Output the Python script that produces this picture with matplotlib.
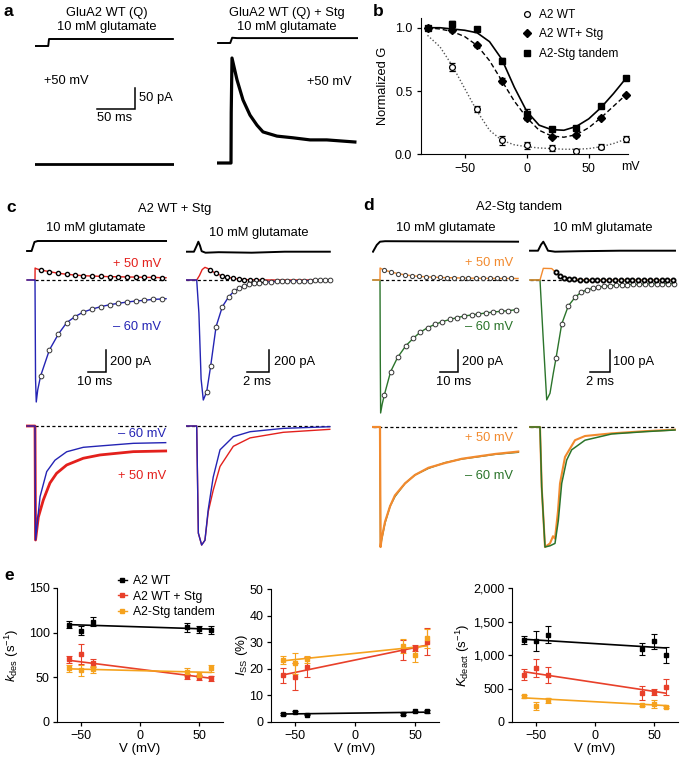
import matplotlib
matplotlib.use("Agg")
import matplotlib.pyplot as plt
from matplotlib.lines import Line2D
from matplotlib.ticker import FuncFormatter
import numpy as np

plt.rcParams["font.family"] = ["Liberation Sans", "DejaVu Sans"]
plt.rcParams["mathtext.fontset"] = "custom"
plt.rcParams["mathtext.rm"] = "Liberation Sans"
plt.rcParams["mathtext.it"] = "Liberation Sans:italic"

W, H = 685, 759
RED = "#e3201c"
BLUE = "#2424b4"
ORANGE = "#f28a2e"
GREEN = "#2b742b"
E_RED = "#e8402a"
E_ORANGE = "#f5a21e"

# ---- panel a: +50 mV responses (ms, pA) ----
A_WT_T = [-18, 163]
A_WT_I = [0, 0]
A_STG_T = [-18, 0, 0.3, 1.3, 7.9, 15.8, 25, 34.2, 42.1, 60.5, 81.6, 104, 126, 163]
A_STG_I = [0, 0, 120, 250, 198, 150, 114, 90, 74, 64, 60, 55, 55, 50]
A_GLU_WT_T = [-18, -1, 0, 163]
A_GLU_WT = [0, 0, 1, 1]
A_GLU_STG_T = [-17, -1, 1.5, 8, 20, 166]
A_GLU_STG = [0, 0, 0.75, 0.7, 0.7, 0.7]

# ---- panel b: G-V ----
B_V = [-80, -60, -40, -20, 0, 20, 40, 60, 80]
B_WT = [1.0, 0.69, 0.36, 0.11, 0.07, 0.05, 0.03, 0.06, 0.12]
B_WT_ERR = [0.01, 0.03, 0.025, 0.035, 0.03, 0.02, 0.01, 0.02, 0.025]
B_STG = [1.0, 0.98, 0.86, 0.58, 0.29, 0.14, 0.15, 0.29, 0.47]
B_STG_ERR = [0.01, 0.01, 0.015, 0.02, 0.02, 0.01, 0.01, 0.01, 0.01]
B_TAN = [1.0, 1.03, 0.99, 0.74, 0.32, 0.2, 0.21, 0.38, 0.6]
B_TAN_ERR = [0.01, 0.02, 0.01, 0.02, 0.04, 0.01, 0.01, 0.01, 0.01]
B_FIT_V = [-80, -70, -60, -50, -40, -30, -20, -10, 0, 10, 20, 30, 40, 50, 60, 70, 80]
B_FIT_WT = [0.94, 0.85, 0.70, 0.52, 0.34, 0.19, 0.11, 0.075, 0.06, 0.05, 0.045, 0.04, 0.04, 0.045, 0.06, 0.085, 0.12]
B_FIT_STG = [1.0, 0.99, 0.97, 0.93, 0.86, 0.74, 0.58, 0.42, 0.29, 0.19, 0.145, 0.135, 0.155, 0.21, 0.29, 0.38, 0.47]
B_FIT_TAN = [1.0, 1.0, 0.99, 0.98, 0.96, 0.89, 0.75, 0.53, 0.34, 0.23, 0.195, 0.19, 0.22, 0.28, 0.37, 0.48, 0.6]

# ---- panel c: A2 WT + Stg (ms, pA) ----
C_L_MARK_T = [3.1, 8.0, 13.0, 17.6, 22.2, 26.9, 31.8, 36.7, 41.7, 46.3, 51.3, 56.1, 60.7, 65.4, 70.4]
C_L_NEG_MARK = [-873, -636, -491, -388, -333, -291, -264, -242, -224, -212, -200, -191, -185, -176, -173]
C_L_POS_MARK = [91, 76, 61, 52, 45, 39, 36, 33, 30, 30, 27, 27, 24, 24, 21]
C_L_NEG_PRE_T = [-4.4, 0, 0.3, 0.7, 1.5]
C_L_NEG_PRE = [0, 0, -900, -1109, -1000]
C_L_POS_PRE_T = [-4.4, 0, 0.05, 0.8]
C_L_POS_PRE = [0, 0, 109, 102]
C_L_END_T = [72.8]
C_L_NEG_END = [-170]
C_L_POS_END = [21]
C_L_GLU_T = [-4.4, -1.9, -0.3, 1.5, 72.8]
C_L_GLU = [0, 0, 0.9, 1.0, 1.0]

C_R_NEG_MARK_T = [0.91, 1.27, 1.76, 2.33, 2.91, 3.42, 3.88, 4.33, 4.79, 5.21, 5.70, 6.21,
                  6.72, 7.27, 7.72, 8.24, 8.79, 9.30, 9.75, 10.30, 10.75, 11.21, 11.66, 12.12]
C_R_NEG_MARK = [-1015, -782, -424, -243, -152, -100, -75, -55, -39, -30, -24, -20,
                -16, -13, -11, -9, -8, -7, -6, -5, -4, -3, -3, -2]
C_R_POS_MARK_T = [1.21, 1.73, 2.27, 2.79, 3.33, 3.85, 4.33, 4.85, 5.4, 5.9]
C_R_POS_MARK = [91, 61, 39, 25, 15, 8, 4, 2, 1, 0]
C_R_NEG_PRE_T = [-0.95, 0, 0.2, 0.4, 0.6]
C_R_NEG_PRE = [0, 0, -300, -900, -1091]
C_R_POS_PRE_T = [-0.95, 0, 0.25, 0.5, 0.75, 1.0]
C_R_POS_PRE = [0, 0, 40, 95, 115, 105]
C_R_GLU_T = [-0.95, -0.25, 0, 0.15, 0.3, 0.45, 0.8, 2, 5, 8, 12.1]
C_R_GLU = [0, 0, 0.6, 1.0, 0.6, 0.05, -0.1, -0.05, -0.1, 0, 0]

# normalized overlays
C_LL_NEG_T = [-4.4, 0, 0.3, 2.8, 6.5, 11.1, 17.6, 26.8, 36.1, 54.6, 72.6]
C_LL_NEG = [0, 0, -1, -0.62, -0.40, -0.30, -0.226, -0.187, -0.175, -0.152, -0.146]
C_LL_POS_T = [-4.4, 0, 0.3, 1.85, 4.6, 8.3, 12.0, 17.6, 26.8, 36.1, 54.6, 72.6]
C_LL_POS = [0, 0, -1, -0.80, -0.65, -0.50, -0.415, -0.342, -0.283, -0.254, -0.225, -0.219]
C_LR_T = [-0.95, 0, 0.15, 0.45, 0.75, 1.05, 1.5, 2.12, 3.33, 4.85, 7.87, 12.1]
C_LR_NEG = [0, 0, -0.9, -1.0, -0.96, -0.7, -0.43, -0.2, -0.09, -0.048, -0.02, -0.006]
C_LR_POS = [0, 0, -0.9, -1.0, -0.96, -0.72, -0.54, -0.34, -0.17, -0.10, -0.053, -0.028]

# ---- panel d: A2-Stg tandem (ms, pA) ----
D_L_POS_MARK_T = [2.2, 6.1, 9.8, 13.9, 17.6, 21.7, 25.6, 29.6, 33.3, 37.4, 41.3, 45.4, 49.1,
                  53.2, 57.1, 61.1, 64.8, 68.9, 72.6]
D_L_POS_MARK = [91, 73, 58, 47, 39, 33, 29, 26, 23, 21, 20, 18, 17, 16, 15, 15, 14, 14, 14]
D_L_NEG_MARK_T = [2.4, 5.9, 9.8, 14.4, 18.5, 22.2, 26.5, 30.6, 34.6, 38.9, 42.9, 46.9, 50.9,
                  54.6, 58.9, 62.9, 67.0, 71.3, 75.4]
D_L_NEG_MARK = [-1045, -833, -703, -597, -530, -476, -433, -403, -379, -358, -342, -327, -318,
                -309, -300, -291, -285, -279, -270]
D_L_POS_PRE_T = [-3.9, 0, 0.05, 1.0]
D_L_POS_PRE = [0, 0, 109, 100]
D_L_NEG_PRE_T = [-3.9, 0, 0.15, 0.35, 1.2]
D_L_NEG_PRE = [0, 0, -700, -1209, -1130]
D_L_END_T = [76.7]
D_L_POS_END = [14]
D_L_NEG_END = [-268]
D_L_GLU_T = [-3.9, -1.8, 0, 2.8, 76.7]
D_L_GLU = [0, 0.67, 1.0, 1.05, 1.0]

D_R_NEG_MARK_T = [1.6, 2.17, 2.83, 3.5, 4.1, 4.67, 5.27, 5.83, 6.4, 7.0, 7.57, 8.17, 8.73,
                  9.33, 9.9, 10.5, 11.07, 11.67, 12.23, 12.83, 13.4]
D_R_NEG_MARK = [-356, -200, -118, -79, -56, -45, -38, -32, -29, -26, -24, -23, -21,
                -20, -20, -18, -18, -18, -17, -17, -17]
D_R_POS_MARK_T = [1.57, 2.0, 2.43, 2.93, 3.43, 4.0, 4.57, 5.17, 5.73, 6.33, 6.9, 7.5, 8.07,
                  8.67, 9.23, 9.83, 10.4, 11.0, 11.57, 12.17, 12.73, 13.33]
D_R_POS_MARK = [35, 20, 11, 6, 3, 2, 1, 1, 0, 0, 0, 0, 0, 0, 0, 0, 0, 0, 0, 0, 0, 0]
D_R_NEG_PRE_T = [-1.0, 0, 0.3, 0.67, 1.0, 1.33]
D_R_NEG_PRE = [0, 0, -250, -545, -515, -424]
D_R_POS_PRE_T = [-1.0, 0, 0.33, 1.17]
D_R_POS_PRE = [0, 0, 53, 52]
D_R_GLU_T = [-1.0, -0.2, 0.1, 0.33, 0.55, 0.8, 1.5, 4, 8, 13.5]
D_R_GLU = [0, 0, 0.6, 0.9, 0.5, 0.0, -0.1, -0.05, 0, 0]

D_LL_T = [-3.9, 0, 0.3, 0.9, 2.8, 5.6, 8.3, 13.9, 19.4, 26.9, 36.1, 45.4, 54.6, 63.9, 76.8]
D_LL_NEG = [0, 0, -1.0, -0.94, -0.80, -0.66, -0.58, -0.47, -0.40, -0.345, -0.297, -0.267, -0.248, -0.228, -0.211]
D_LL_POS = [0, 0, -1.0, -0.93, -0.79, -0.66, -0.57, -0.47, -0.40, -0.34, -0.30, -0.265, -0.245, -0.225, -0.205]
D_LR_NEG_T = [-1.0, 0, 0.17, 0.5, 1.0, 1.5, 1.83, 2.17, 2.67, 3.17, 4.5, 7.17, 10.5, 13.5]
D_LR_NEG = [0, 0, -0.5, -1.0, -0.99, -0.97, -0.78, -0.47, -0.275, -0.19, -0.11, -0.058, -0.039, -0.025]
D_LR_POS_T = [-1.0, 0, 0.17, 0.5, 1.0, 1.3, 1.5, 1.8, 2.0, 2.5, 3.5, 4.5, 7.17, 10.5, 13.5]
D_LR_POS = [0, 0, -0.5, -1.0, -0.97, -0.91, -0.93, -0.7, -0.47, -0.25, -0.11, -0.075, -0.053, -0.035, -0.022]

# ---- panel e ----
E_V = [-60, -50, -40, 40, 50, 60]
FIT_V = [-60, 60]
KDES_WT = [109, 102, 112, 106, 104, 103]
KDES_WT_ERR = [4, 5, 5, 5, 4, 5]
KDES_STG = [70, 76, 66, 51, 50, 49]
KDES_STG_ERR = [4, 11, 4, 3, 3, 3]
KDES_TAN = [60, 58, 59, 56, 53, 60]
KDES_TAN_ERR = [4, 6, 4, 5, 3, 4]
KDES_FIT = {"wt": [109, 104], "stg": [69, 49], "tan": [59.5, 55.5]}
ISS_WT = [3.1, 3.8, 2.8, 3.1, 4.0, 4.0]
ISS_WT_ERR = [0.3, 0.5, 0.3, 0.3, 0.3, 0.6]
ISS_STG = [17.6, 17.0, 20.8, 27.0, 27.8, 30.2]
ISS_STG_ERR = [2.8, 5.0, 3.8, 3.8, 1.2, 5.0]
ISS_TAN = [23.3, 22.0, 23.5, 28.6, 25.2, 31.5]
ISS_TAN_ERR = [1.5, 3.8, 1.3, 2.5, 2.5, 3.5]
ISS_FIT = {"wt": [3.0, 3.7], "stg": [17.7, 28.9], "tan": [23.0, 28.6]}
KDEACT_WT = [1219, 1214, 1303, 1090, 1204, 1005]
KDEACT_WT_ERR = [60, 150, 130, 90, 110, 120]
KDEACT_STG = [706, 806, 706, 433, 448, 517]
KDEACT_STG_ERR = [80, 140, 120, 100, 40, 120]
KDEACT_TAN = [383, 234, 323, 249, 274, 219]
KDEACT_TAN_ERR = [25, 60, 40, 15, 60, 15]
KDEACT_FIT = {"wt": [1235, 1105], "stg": [750, 430], "tan": [360, 245]}

fig = plt.figure(figsize=(W / 100, H / 100), dpi=100)


def ftext(x, y, s, **kw):
    kw.setdefault("fontsize", 9.3)
    kw.setdefault("ha", "center")
    kw.setdefault("va", "center")
    fig.text(x / W, 1 - y / H, s, **kw)


def px_axes(left, top, right, bottom):
    return fig.add_axes([left / W, 1 - bottom / H, (right - left) / W, (bottom - top) / H])


def trace_ax(x0, y0, px_t, px_y, t_lim, y_lim):
    """Invisible axes whose (t=0, y=0) sits at pixel (x0, y0)."""
    ax = px_axes(x0 + t_lim[0] * px_t, y0 - y_lim[1] * px_y,
                 x0 + t_lim[1] * px_t, y0 - y_lim[0] * px_y)
    ax.set_xlim(t_lim)
    ax.set_ylim(y_lim)
    ax.axis("off")
    return ax


def scale_bar(ax, t_end, y_bot, dt, dy):
    ax.plot([t_end - dt, t_end, t_end], [y_bot, y_bot, y_bot + dy], color="k", lw=1.1,
            clip_on=False, solid_joinstyle="miter")


def join(*parts):
    return np.concatenate([np.asarray(p, dtype=float) for p in parts])


NEG_MK = dict(ls="none", marker="o", ms=3.4, mfc="white", mec="#333333", mew=0.7, clip_on=False, zorder=5)
POS_MK = dict(ls="none", marker="o", ms=3.0, mfc="white", mec="black", mew=1.0, clip_on=False, zorder=5)

# ================= panel a =================
ftext(4, 11, "a", fontsize=12.5, fontweight="bold", ha="left")
ftext(107, 13, "GluA2 WT (Q)")
ftext(107, 27, "10 mM glutamate")
ftext(287, 13, "GluA2 WT (Q) + Stg")
ftext(287, 27, "10 mM glutamate")

ax = trace_ax(49, 46, 0.76, 7, (-19, 165), (-0.5, 1.5))
ax.plot(A_GLU_WT_T, A_GLU_WT, color="k", lw=1.4)
ax = trace_ax(231, 43, 0.76, 7, (-19, 167), (-0.5, 1.5))
ax.plot(A_GLU_STG_T, A_GLU_STG, color="k", lw=1.4)

ax = trace_ax(49, 164, 0.76, 0.42, (-19, 165), (-30, 270))
ax.plot(A_WT_T, A_WT_I, color="k", lw=2.0)
scale_bar(ax, 113.2, 131, 50, 50)
ax = trace_ax(231, 163, 0.76, 0.42, (-19, 167), (-30, 270))
ax.plot(A_STG_T, A_STG_I, color="k", lw=2.3)
ftext(44, 81, "+50 mV", ha="left")
ftext(139, 98, "50 pA", ha="left")
ftext(115, 118, "50 ms")
ftext(352, 82, "+50 mV", ha="right")

# ================= panel b =================
ftext(373, 11, "b", fontsize=12.5, fontweight="bold", ha="left")
axb = px_axes(421.3, 17.6, 628.4, 154.3)
axb.set_xlim(-85, 82)
axb.set_ylim(0, 1.08)
axb.plot(B_FIT_V, B_FIT_WT, color="#555555", lw=1.0, ls=(0, (1, 1.5)))
axb.plot(B_FIT_V, B_FIT_STG, color="k", lw=1.0, ls=(0, (3.5, 2)))
axb.plot(B_FIT_V, B_FIT_TAN, color="k", lw=1.2)
axb.errorbar(B_V, B_WT, yerr=B_WT_ERR, fmt="o", ms=4.2, mfc="white", mec="k", mew=0.9,
             ecolor="k", elinewidth=0.8, capsize=2, clip_on=False, zorder=4)
axb.errorbar(B_V, B_STG, yerr=B_STG_ERR, fmt="D", ms=4.2, color="k",
             elinewidth=0.8, capsize=2, clip_on=False, zorder=4)
axb.errorbar(B_V, B_TAN, yerr=B_TAN_ERR, fmt="s", ms=4.6, color="k",
             elinewidth=0.8, capsize=2, clip_on=False, zorder=4)
for s in ("top", "right"):
    axb.spines[s].set_visible(False)
axb.set_xticks([-50, 0, 50])
axb.set_yticks([0, 0.5, 1.0])
axb.yaxis.set_major_formatter(FuncFormatter(lambda v, p: f"{v:.1f}"))
axb.tick_params(direction="out", length=3, width=0.9, labelsize=9)
axb.set_ylabel("Normalized G", fontsize=9.3)
axb.yaxis.set_label_coords((389 - 421.3) / (628.4 - 421.3), 0.5)
ftext(621, 167, "mV", ha="left", fontsize=9)
b_handles = [
    Line2D([], [], ls="none", marker="o", ms=4.2, mfc="white", mec="k", mew=0.9),
    Line2D([], [], ls="none", marker="D", ms=4.2, color="k"),
    Line2D([], [], ls="none", marker="s", ms=4.6, color="k"),
]
axb.legend(b_handles, ["A2 WT", "A2 WT+ Stg", "A2-Stg tandem"], loc="upper left",
           bbox_to_anchor=(521 / W, 1 - 9 / H), bbox_transform=fig.transFigure, frameon=False,
           fontsize=8.6, handlelength=1.0, handletextpad=0.5, labelspacing=0.62,
           borderpad=0, borderaxespad=0)

# ================= panel c =================
ftext(6, 207, "c", fontsize=12.5, fontweight="bold", ha="left")
ftext(175, 209, "A2 WT + Stg")
ftext(96, 228, "10 mM glutamate")
ftext(259, 233, "10 mM glutamate")

ax = trace_ax(35, 251, 1.8, 10, (-5, 74), (-0.5, 1.5))
ax.plot(C_L_GLU_T, C_L_GLU, color="k", lw=1.4)
ax = trace_ax(196.7, 251.7, 11, 10, (-1.0, 12.2), (-0.5, 1.5))
ax.plot(C_R_GLU_T, C_R_GLU, color="k", lw=1.4)

ax = trace_ax(35, 280, 1.8, 0.11, (-5, 74), (-1150, 150))
ax.plot([0, C_L_END_T[0]], [0, 0], color="k", lw=0.9, ls=(0, (2.5, 2)))
ax.plot(join(C_L_POS_PRE_T, C_L_MARK_T, C_L_END_T), join(C_L_POS_PRE, C_L_POS_MARK, C_L_POS_END),
        color=RED, lw=1.0)
ax.plot(join(C_L_NEG_PRE_T, C_L_MARK_T, C_L_END_T), join(C_L_NEG_PRE, C_L_NEG_MARK, C_L_NEG_END),
        color=BLUE, lw=1.0)
ax.plot(C_L_MARK_T, C_L_POS_MARK, **POS_MK)
ax.plot(C_L_MARK_T, C_L_NEG_MARK, **NEG_MK)
scale_bar(ax, 39.4, -836, 10, 200)

ax = trace_ax(196.7, 280, 11, 0.11, (-1.0, 12.2), (-1150, 150))
ax.plot([-0.95, 12.1], [0, 0], color="k", lw=0.9, ls=(0, (2.5, 2)))
ax.plot(join(C_R_POS_PRE_T, C_R_POS_MARK_T, [12.1]), join(C_R_POS_PRE, C_R_POS_MARK, [0]),
        color=RED, lw=1.0)
ax.plot(join(C_R_NEG_PRE_T, C_R_NEG_MARK_T), join(C_R_NEG_PRE, C_R_NEG_MARK), color=BLUE, lw=1.0)
ax.plot(C_R_POS_MARK_T, C_R_POS_MARK, **POS_MK)
ax.plot(C_R_NEG_MARK_T, C_R_NEG_MARK, **NEG_MK)
scale_bar(ax, 6.57, -836, 2, 200)

ftext(161, 264, "+ 50 mV", ha="right", color=RED)
ftext(161, 327, "\u2013 60 mV", ha="right", color=BLUE)
ftext(110, 362, "200 pA", ha="left")
ftext(95, 382, "10 ms")
ftext(274, 362, "200 pA", ha="left")
ftext(257, 382, "2 ms")

ax = trace_ax(35, 426, 1.8, 114, (-5, 74), (-1.05, 0.1))
ax.plot([0, 72.8], [0, 0], color="k", lw=0.9, ls=(0, (2.5, 2)))
ax.plot(C_LL_POS_T, C_LL_POS, color=RED, lw=2.0)
ax.plot(C_LL_NEG_T, C_LL_NEG, color=BLUE, lw=1.0)
ax = trace_ax(196.7, 426, 11, 119, (-1.0, 12.2), (-1.05, 0.1))
ax.plot([-0.95, 12.1], [0, 0], color="k", lw=0.9, ls=(0, (2.5, 2)))
ax.plot(C_LR_T, C_LR_POS, color=RED, lw=1.0)
ax.plot(C_LR_T, C_LR_NEG, color=BLUE, lw=1.0)
ftext(166, 434, "\u2013 60 mV", ha="right", color=BLUE)
ftext(166, 476, "+ 50 mV", ha="right", color=RED)

# ================= panel d =================
ftext(363, 206, "d", fontsize=12.5, fontweight="bold", ha="left")
ftext(519, 207, "A2-Stg tandem")
ftext(446, 228, "10 mM glutamate")
ftext(603, 228, "10 mM glutamate")

ax = trace_ax(380, 251.7, 1.8, 10, (-4.5, 78), (-0.5, 1.5))
ax.plot(D_L_GLU_T, D_L_GLU, color="k", lw=1.4)
ax = trace_ax(540, 250.7, 10, 10, (-1.1, 13.6), (-0.5, 1.5))
ax.plot(D_R_GLU_T, D_R_GLU, color="k", lw=1.4)

ax = trace_ax(380, 280, 1.8, 0.11, (-4.5, 78), (-1250, 150))
ax.plot([0, D_L_END_T[0]], [0, 0], color="k", lw=0.9, ls=(0, (2.5, 2)))
ax.plot(join(D_L_NEG_PRE_T, D_L_NEG_MARK_T, D_L_END_T), join(D_L_NEG_PRE, D_L_NEG_MARK, D_L_NEG_END),
        color=GREEN, lw=1.0)
ax.plot(join(D_L_POS_PRE_T, D_L_POS_MARK_T, D_L_END_T), join(D_L_POS_PRE, D_L_POS_MARK, D_L_POS_END),
        color=ORANGE, lw=1.0)
ax.plot(D_L_POS_MARK_T, D_L_POS_MARK, **dict(POS_MK, mec="#444444", mew=0.8))
ax.plot(D_L_NEG_MARK_T, D_L_NEG_MARK, **NEG_MK)
scale_bar(ax, 43.3, -836, 10, 200)

ax = trace_ax(540, 280, 10, 0.22, (-1.1, 13.6), (-600, 80))
ax.plot([-1.0, 13.5], [0, 0], color="k", lw=0.9, ls=(0, (2.5, 2)))
ax.plot(join(D_R_NEG_PRE_T, D_R_NEG_MARK_T), join(D_R_NEG_PRE, D_R_NEG_MARK), color=GREEN, lw=1.0)
ax.plot(join(D_R_POS_PRE_T, D_R_POS_MARK_T), join(D_R_POS_PRE, D_R_POS_MARK), color=ORANGE, lw=1.0)
ax.plot(D_R_NEG_MARK_T, D_R_NEG_MARK, **NEG_MK)
ax.plot(D_R_POS_MARK_T, D_R_POS_MARK, **dict(POS_MK, mew=1.3))
scale_bar(ax, 7.0, -418, 2, 100)

ftext(513, 263, "+ 50 mV", ha="right", color=ORANGE)
ftext(513, 327, "\u2013 60 mV", ha="right", color=GREEN)
ftext(462, 362, "200 pA", ha="left")
ftext(454, 382, "10 ms")
ftext(613, 362, "100 pA", ha="left")
ftext(600, 382, "2 ms")

ax = trace_ax(380, 427, 1.8, 120, (-4.5, 78), (-1.05, 0.1))
ax.plot([-3.9, 76.8], [0, 0], color="k", lw=0.9, ls=(0, (2.5, 2)))
ax.plot(D_LL_T, D_LL_NEG, color=GREEN, lw=1.0)
ax.plot(D_LL_T, D_LL_POS, color=ORANGE, lw=1.6)
ax = trace_ax(540, 427, 10, 120, (-1.1, 13.6), (-1.05, 0.1))
ax.plot([-1.0, 13.5], [0, 0], color="k", lw=0.9, ls=(0, (2.5, 2)))
ax.plot(D_LR_POS_T, D_LR_POS, color=ORANGE, lw=1.5)
ax.plot(D_LR_NEG_T, D_LR_NEG, color=GREEN, lw=1.1)
ftext(513, 438, "+ 50 mV", ha="right", color=ORANGE)
ftext(513, 476, "\u2013 60 mV", ha="right", color=GREEN)

# ================= panel e =================
ftext(4, 575, "e", fontsize=12.5, fontweight="bold", ha="left")
E_COLORS = {"wt": "k", "stg": E_RED, "tan": E_ORANGE}


def e_panel(box, ylim, yticks, series, fits, ylabel, label_right):
    ax = px_axes(*box)
    ax.set_xlim(-70, 70)
    ax.set_ylim(*ylim)
    for key, (vals, errs) in series.items():
        c = E_COLORS[key]
        ax.plot(FIT_V, fits[key], color=c, lw=1.2, zorder=2)
        ax.errorbar(E_V, vals, yerr=errs, fmt="s", ms=2.4, color=c, elinewidth=0.8,
                    capsize=2, capthick=0.8, clip_on=False, zorder=3)
    for s in ("top", "right"):
        ax.spines[s].set_visible(False)
    ax.set_xticks([-50, 0, 50])
    ax.set_yticks(yticks)
    ax.tick_params(direction="out", length=3, width=0.9, labelsize=9, pad=2.5)
    ax.set_xlabel("V (mV)", fontsize=9.5, labelpad=1)
    ax.set_ylabel(ylabel, fontsize=9.5)
    # the y label's anchor is its right-hand edge
    ax.yaxis.set_label_coords((label_right - box[0]) / (box[2] - box[0]), 0.5)
    return ax


ax1 = e_panel((57.4, 588, 222.6, 722), (0, 150), [0, 50, 100, 150],
              {"wt": (KDES_WT, KDES_WT_ERR), "stg": (KDES_STG, KDES_STG_ERR), "tan": (KDES_TAN, KDES_TAN_ERR)},
              KDES_FIT, r"$k_{\rm des}$ (s$^{-1}$)", 21)
ax2 = e_panel((271, 589, 439, 722), (0, 50), [0, 10, 20, 30, 40, 50],
              {"wt": (ISS_WT, ISS_WT_ERR), "stg": (ISS_STG, ISS_STG_ERR), "tan": (ISS_TAN, ISS_TAN_ERR)},
              ISS_FIT, r"$I_{\rm SS}$ (%)", 250)
ax3 = e_panel((512.4, 588, 677.6, 722), (0, 2000), [0, 500, 1000, 1500, 2000],
              {"wt": (KDEACT_WT, KDEACT_WT_ERR), "stg": (KDEACT_STG, KDEACT_STG_ERR),
               "tan": (KDEACT_TAN, KDEACT_TAN_ERR)},
              KDEACT_FIT, r"$K_{\rm deact}$ (s$^{-1}$)", 472)
ax3.yaxis.set_major_formatter(FuncFormatter(lambda v, p: f"{int(v):,}"))

e_handles = [Line2D([0], [0], color=E_COLORS[k], marker="s", ms=2.4, lw=1.0) for k in ("wt", "stg", "tan")]
ax1.legend(e_handles, ["A2 WT", "A2 WT + Stg", "A2-Stg tandem"], loc="upper left",
           bbox_to_anchor=(118 / W, 1 - 575 / H), bbox_transform=fig.transFigure, frameon=False,
           fontsize=8.8, handlelength=0.7, handletextpad=0.5, labelspacing=0.3,
           borderpad=0, borderaxespad=0)

fig.savefig("out.png", dpi=100)
